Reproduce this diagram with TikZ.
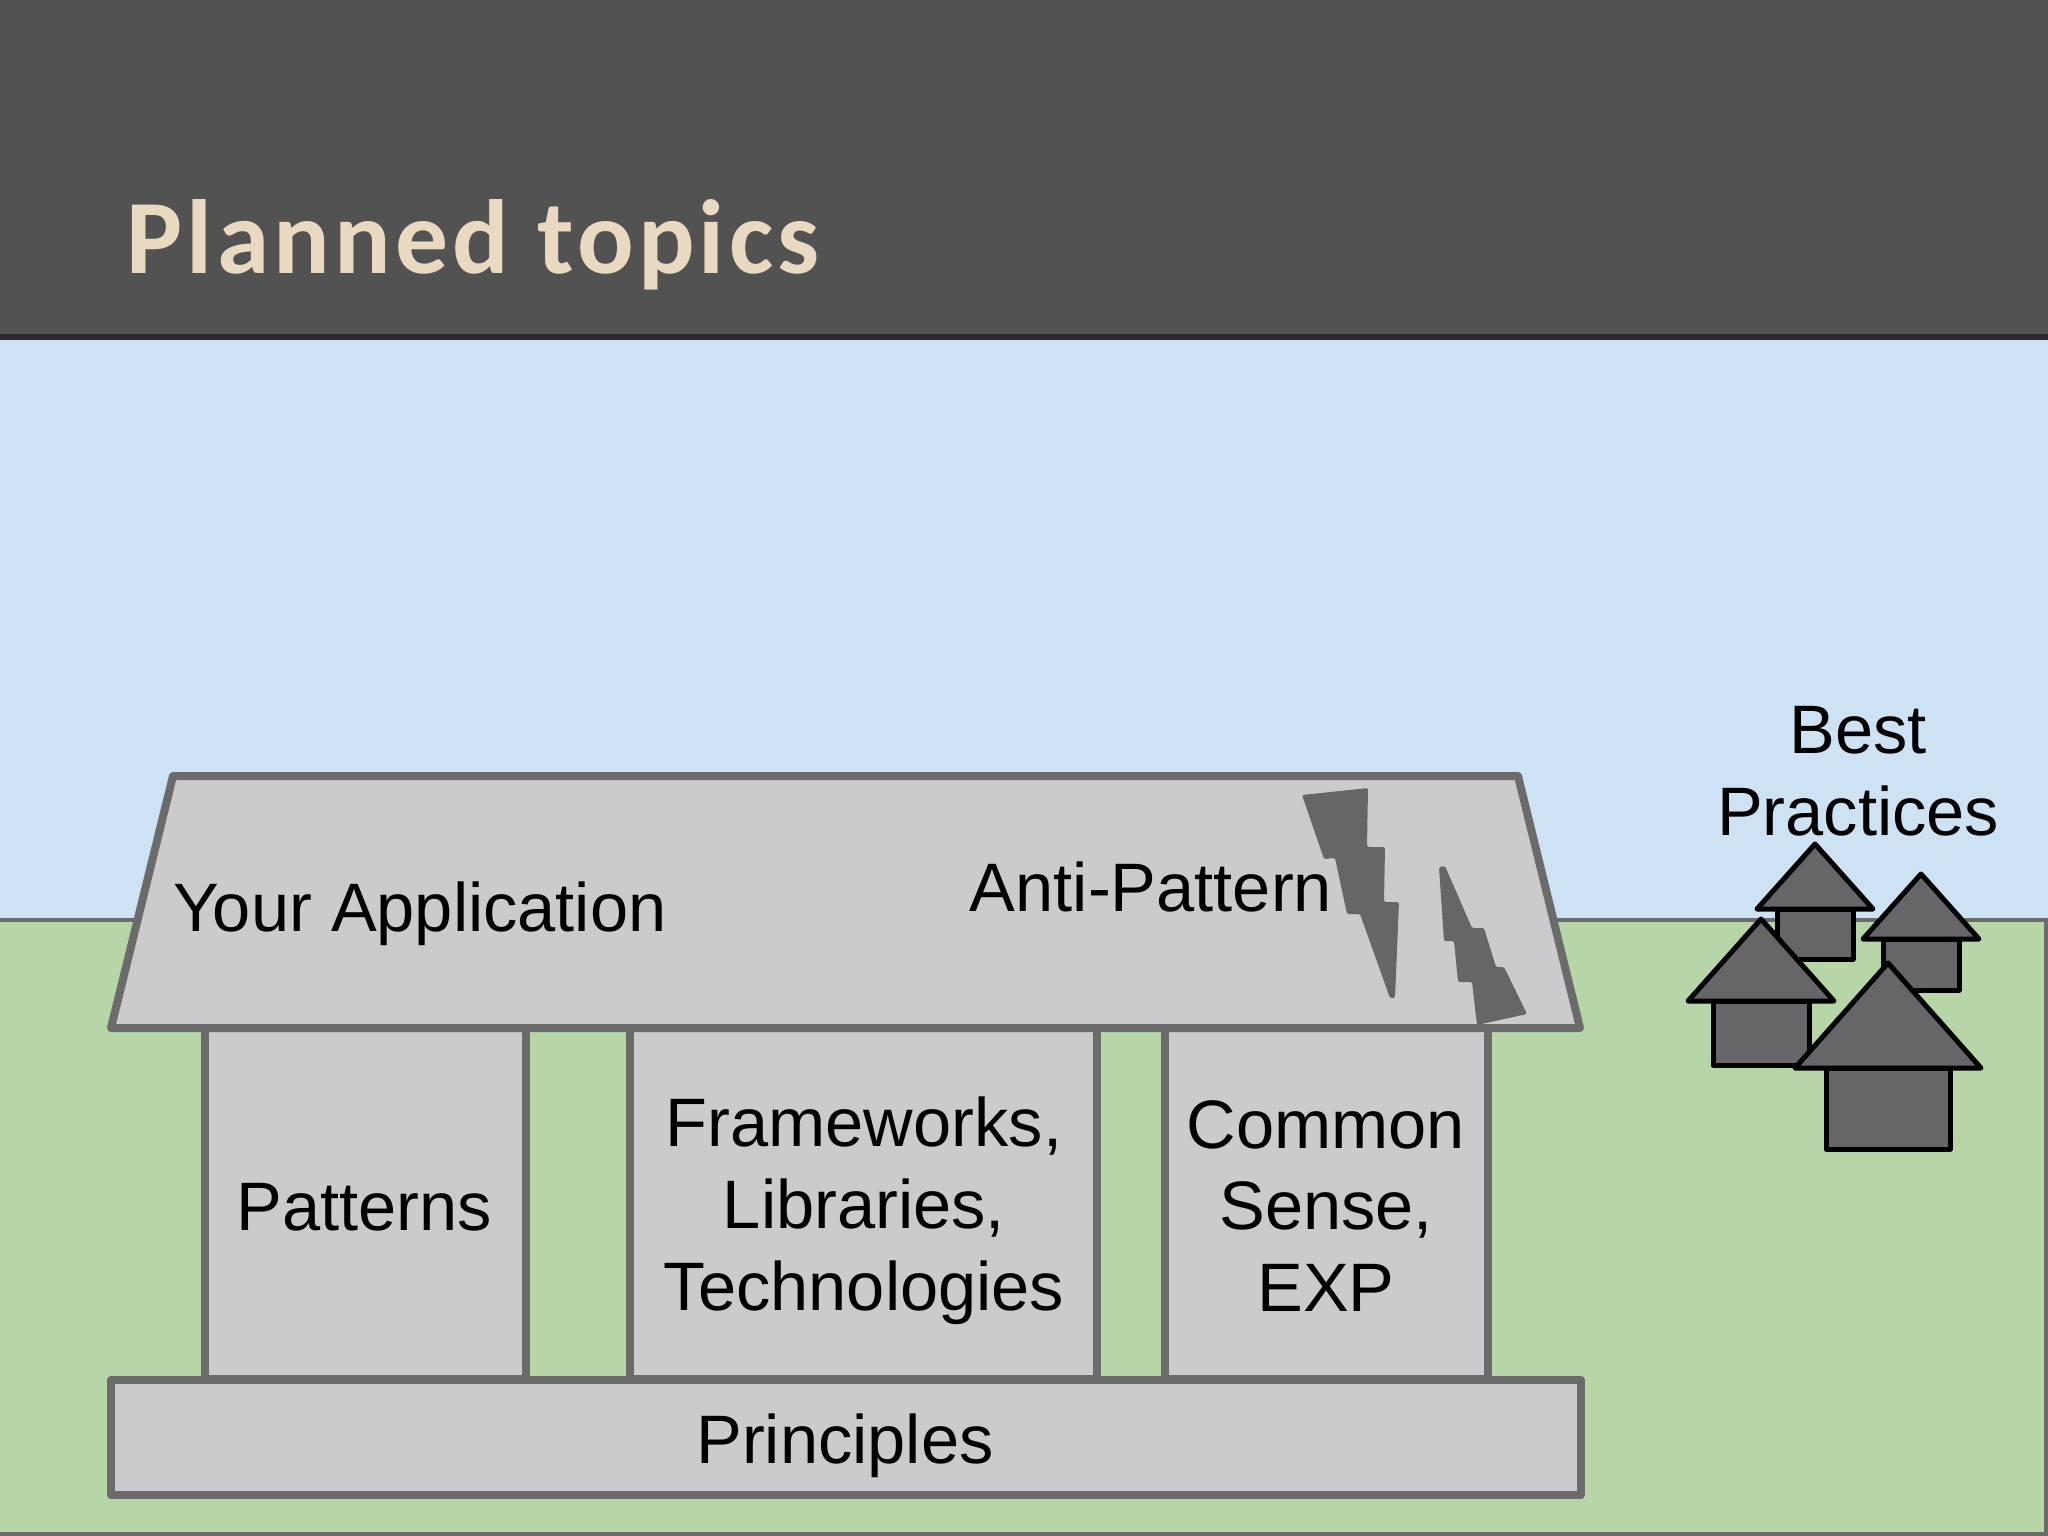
\documentclass[tikz,border=0pt]{standalone}
\usepackage{fontspec}
\setmainfont{Liberation Sans}
\newfontfamily\titlefont[LetterSpace=4]{Carlito}
\definecolor{skyblue}{HTML}{CDE2F3}
\definecolor{groundgreen}{HTML}{B7D6A8}
\definecolor{wallgray}{HTML}{CBCACC}
\definecolor{linegray}{HTML}{6B6B6B}
\definecolor{headgray}{HTML}{535253}
\definecolor{bandgray}{HTML}{2A2A2E}
\definecolor{titlecream}{HTML}{E8D9C0}
\definecolor{housegray}{HTML}{666567}
\tikzset{
    wall/.style={draw=linegray, fill=wallgray, line width=0.08cm, line join=round},
    house/.style={draw=black, fill=housegray, line width=0.05cm, line join=round},
    bolt/.style={fill=housegray, rounded corners=0.015cm},
    label/.style={font=\fontsize{19.5}{23.3}\selectfont, align=center, text=black, inner sep=0pt},
}
\begin{document}
\begin{tikzpicture}[x=0.01cm, y=-0.01cm]
            \useasboundingbox (0, 0) rectangle (2048, 1536);
            % background
            \fill[skyblue] (0, 0) rectangle (2048, 920);
            \draw[draw=linegray, fill=groundgreen, line width=0.035cm] (-5, 920) -- (2046, 920) -- (2046, 1534) -- (-5, 1534);
            \fill[headgray] (0, 0) rectangle (2048, 334);
            \fill[bandgray] (0, 334) rectangle (2048, 340);
            \node[anchor=base west, inner sep=0pt, text=titlecream, font=\titlefont\bfseries\fontsize{30}{34}\selectfont] (title) at (126, 273) {Planned topics};
            % the building
            \draw[wall] (205, 1028) rectangle (526, 1379);
            \draw[wall] (630, 1028) rectangle (1097, 1379);
            \draw[wall] (1165, 1028) rectangle (1488, 1379);
            \draw[wall] (111, 1380) rectangle (1581, 1495);
            \draw[wall] (173, 776) -- (1518, 776) -- (1580, 1028) -- (111, 1028) -- cycle;
            % cracks in the roof
            \fill[bolt] (1302, 795) -- (1368, 788) -- (1367, 847) -- (1385, 847) -- (1384, 902) -- (1399, 902) -- (1395, 998) -- (1390, 998)
                -- (1360, 914) -- (1347, 914) -- (1335, 858) -- (1324, 859) -- cycle;
            \fill[bolt] (1439, 867) -- (1445, 866) -- (1472, 928) -- (1484, 928) -- (1496, 967) -- (1504, 967) -- (1527, 1014) -- (1477, 1025)
                -- (1472, 982) -- (1458, 982) -- (1454, 941) -- (1444, 941) -- cycle;
            % small houses, as apex x / apex y / half roof / roof base / half body / bottom
            \foreach \ax/\ay/\hr/\by/\hb/\ey in {1815/844/58/909/38/959, 1921/874/58/939/38/990, 1761/919/73/1001/48/1065, 1888/963/93/1068/62/1149} {
                \draw[house] (\ax-\hb, \by) rectangle (\ax+\hb, \ey);
                \draw[house] (\ax, \ay) -- (\ax+\hr, \by) -- (\ax-\hr, \by) -- cycle;
            }
            % labels
            \node[label] (app) at (420, 914) {Your Application};
            \node[label] (anti) at (1151, 887) {Anti-Pattern};
            \node[label] (patterns) at (364, 1207) {Patterns};
            \node[label] (frameworks) at (864, 1211) {Frameworks,\\Libraries,\\Technologies};
            \node[label] (common) at (1326, 1206) {Common\\Sense,\\EXP};
            \node[label] (principles) at (845, 1446) {Principles};
            \node[label] (best) at (1858, 771) {Best\\Practices};
        \end{tikzpicture}
\end{document}
